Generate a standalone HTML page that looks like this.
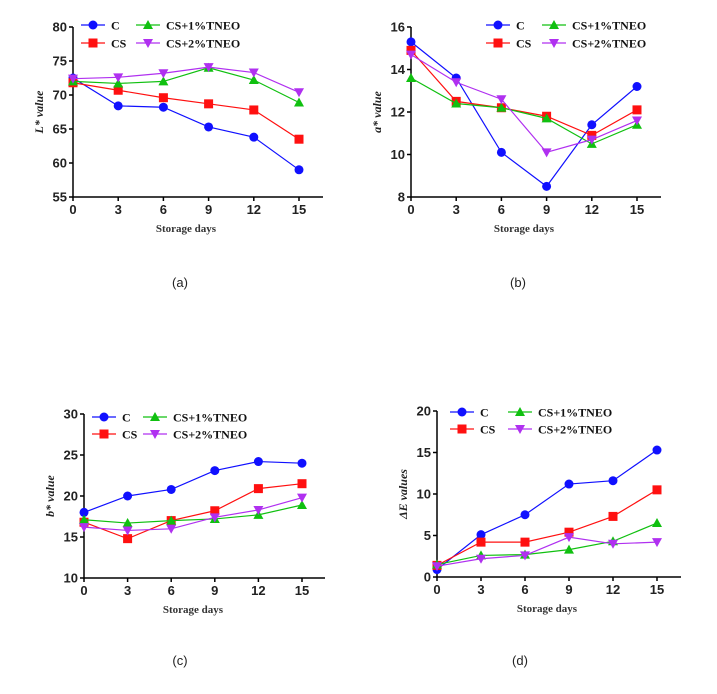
<!DOCTYPE html>
<html><head><meta charset="utf-8"><style>
body{margin:0;background:#fff;}
svg{display:block;font-family:"Liberation Serif",serif;}
</style></head><body>
<svg id="root" width="717" height="694" viewBox="0 0 717 694"></svg>
<script>
const days=[0,3,6,9,12,15];
const seriesNames=["C","CS","CS+1%TNEO","CS+2%TNEO"];
const aC=[72.5,68.4,68.2,65.3,63.8,59.0];
const aCS=[71.8,70.7,69.6,68.7,67.8,63.5];
const aCS1=[72.0,71.7,72.0,74.0,72.2,68.9];
const aCS2=[72.4,72.6,73.2,74.1,73.3,70.4];
const bC=[15.3,13.6,10.1,8.5,11.4,13.2];
const bCS=[14.9,12.5,12.2,11.8,10.9,12.1];
const bCS1=[13.6,12.4,12.2,11.7,10.5,11.4];
const bCS2=[14.7,13.4,12.6,10.1,10.7,11.6];
const cC=[18.0,20.0,20.8,23.1,24.2,24.0];
const cCS=[16.8,14.8,17.0,18.2,20.9,21.5];
const cCS1=[17.1,16.7,17.0,17.2,17.7,18.9];
const cCS2=[16.2,15.8,16.0,17.4,18.3,19.8];
const dC=[0.9,5.1,7.5,11.2,11.6,15.3];
const dCS=[1.4,4.2,4.2,5.4,7.3,10.5];
const dCS1=[1.5,2.6,2.7,3.3,4.3,6.5];
const dCS2=[1.3,2.2,2.6,4.8,4.0,4.2];
const aTicks=[55,60,65,70,75,80];
const bTicks=[8,10,12,14,16];
const cTicks=[10,15,20,25,30];
const dTicks=[0,5,10,15,20];

const NS="http://www.w3.org/2000/svg";
const root=document.getElementById('root');
const colors=["#1010ff","#ff1010","#10c010","#b030f0"];
function mk(tag,attrs,parent){const e=document.createElementNS(NS,tag);for(const k in attrs)e.setAttribute(k,attrs[k]);(parent||root).appendChild(e);return e;}
function marker(g,i,x,y){
  const c=colors[i];
  if(i===0)return mk('circle',{cx:x,cy:y,r:4.5,fill:c},g);
  if(i===1)return mk('rect',{x:x-4.5,y:y-4.5,width:9,height:9,fill:c},g);
  if(i===2)return mk('polygon',{points:`${x},${y-5} ${x-5},${y+4} ${x+5},${y+4}`,fill:c},g);
  return mk('polygon',{points:`${x},${y+5} ${x-5},${y-4} ${x+5},${y-4}`,fill:c},g);
}
function panel(p){
  const g=mk('g',{});
  
  
  const xs=d=>p.x0+(d/15)*(p.x15-p.x0);
  const ys=v=>p.yBot-(v-p.ymin)/(p.ymax-p.ymin)*(p.yBot-p.yTop);
  const ax=mk('path',{d:`M${p.x0},${p.yTop} V${p.yBot} H${p.xEnd}`,stroke:'#000','stroke-width':1.5,fill:'none'},g);
  
  
  p.ticks.forEach(t=>{
    mk('line',{x1:p.x0-4,x2:p.x0,y1:ys(t),y2:ys(t),stroke:'#000','stroke-width':1.5},g);
    const tx=mk('text',{x:p.x0-6,y:ys(t)+4.5,'text-anchor':'end','font-size':13,'font-weight':'bold','font-family':'Liberation Sans, sans-serif',fill:'#222'},g);
    tx.textContent=t;
    
    
  });
  days.forEach(d=>{
    mk('line',{x1:xs(d),x2:xs(d),y1:p.yBot,y2:p.yBot+4,stroke:'#000','stroke-width':1.5},g);
    const tx=mk('text',{x:xs(d),y:p.yBot+17,'text-anchor':'middle','font-size':13,'font-weight':'bold','font-family':'Liberation Sans, sans-serif',fill:'#222'},g);
    tx.textContent=d;
    
    
  });
  const xl=mk('text',{x:(p.x0+p.x15)/2,y:p.yBot+35,'text-anchor':'middle','font-size':11,'font-weight':'bold',fill:'#333'},g);
  xl.textContent='Storage days';
  
  
  const yl=mk('text',{x:0,y:0,'text-anchor':'middle','font-size':12,'font-weight':'bold','font-style':'italic',fill:'#222',transform:`translate(${p.x0-30},${(p.yTop+p.yBot)/2}) rotate(-90)`},g);
  yl.textContent=p.ylabel;
  
  
  p.series.forEach((s,i)=>{
    const sg=mk('g',{},g);
    
    
    const pts=s.map((v,j)=>xs(days[j])+','+ys(v)).join(' ');
    mk('polyline',{points:pts,fill:'none',stroke:colors[i],'stroke-width':1.2},sg);
    s.forEach((v,j)=>{const m=marker(sg,i,xs(days[j]),ys(v));
      
      });
  });
  // legend
  const L=p.leg;
  const pos=[[L.x,L.y],[L.x,L.y+L.dy],[L.x2,L.y],[L.x2,L.y+L.dy]];
  seriesNames.forEach((n,i)=>{
    const lg=mk('g',{},g);
    
    
    const [lx,ly]=pos[i];
    mk('line',{x1:lx-12,x2:lx+12,y1:ly,y2:ly,stroke:colors[i],'stroke-width':1.2},lg);
    marker(lg,i,lx,ly);
    const t=mk('text',{x:lx+18,y:ly+4.5,'font-size':12,'font-weight':'bold',fill:'#111'},lg);
    t.textContent=n;
  });
  const cap=mk('text',{x:p.cap[0],y:p.cap[1],'text-anchor':'middle','font-size':13,'font-family':'Liberation Sans, sans-serif',fill:'#222'});
  cap.textContent=p.capText;
  
  
}
panel({name:'panel-a-lightness',x0:73,x15:299,xEnd:323,yTop:27,yBot:197,ymin:55,ymax:80,ticks:aTicks,ylabel:'L* value',series:[aC,aCS,aCS1,aCS2],leg:{x:93,x2:148,y:25,dy:18},cap:[180,287],capText:'(a)'});
panel({name:'panel-b-redness',x0:411,x15:637,xEnd:661,yTop:27,yBot:197,ymin:8,ymax:16,ticks:bTicks,ylabel:'a* value',series:[bC,bCS,bCS1,bCS2],leg:{x:498,x2:554,y:25,dy:18},cap:[518,287],capText:'(b)'});
panel({name:'panel-c-yellowness',x0:84,x15:302,xEnd:325,yTop:414,yBot:578,ymin:10,ymax:30,ticks:cTicks,ylabel:'b* value',series:[cC,cCS,cCS1,cCS2],leg:{x:104,x2:155,y:417,dy:17},cap:[180,665],capText:'(c)'});
panel({name:'panel-d-delta-e',x0:437,x15:657,xEnd:681,yTop:411,yBot:577,ymin:0,ymax:20,ticks:dTicks,ylabel:'ΔE values',series:[dC,dCS,dCS1,dCS2],leg:{x:462,x2:520,y:412,dy:17},cap:[520,665],capText:'(d)'});
</script>
</body></html>
